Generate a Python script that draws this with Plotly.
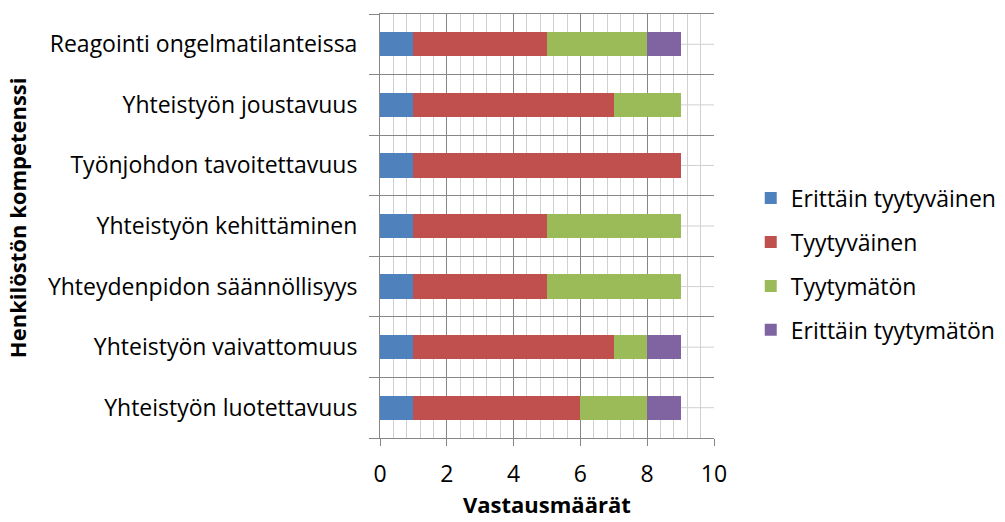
import plotly.graph_objects as go

# Competence areas, listed top to bottom as they appear on the chart
categories = [
    "Reagointi ongelmatilanteissa",
    "Yhteistyön joustavuus",
    "Työnjohdon tavoitettavuus",
    "Yhteistyön kehittäminen",
    "Yhteydenpidon säännöllisyys",
    "Yhteistyön vaivattomuus",
    "Yhteistyön luotettavuus",
]

# Response counts per satisfaction level
erittain_tyytyvainen = [1, 1, 1, 1, 1, 1, 1]
tyytyvainen = [4, 6, 8, 4, 4, 6, 5]
tyytymaton = [3, 2, 0, 4, 4, 1, 2]
erittain_tyytymaton = [1, 0, 0, 0, 0, 1, 1]

series_names = ["Erittäin tyytyväinen", "Tyytyväinen", "Tyytymätön", "Erittäin tyytymätön"]
series_values = [erittain_tyytyvainen, tyytyvainen, tyytymaton, erittain_tyytymaton]
colors = ["#4F81BD", "#C0504D", "#9BBB59", "#8064A2"]

x_ticks = [0, 2, 4, 6, 8, 10]

FONT = "Open Sans"
FS = 23
TITLE_FS = 22
DARK = "#868686"
LIGHT = "#D0D0D0"

fig = go.Figure()
for name, vals, col in zip(series_names, series_values, colors):
    fig.add_trace(go.Bar(
        y=categories, x=vals, name=name, orientation="h",
        marker=dict(color=col, line=dict(width=0)),
        legendgroup=name,
    ))

# light centre lines through each category row
for c in categories:
    fig.add_shape(type="line", xref="x domain", yref="y", x0=0, x1=1, y0=c, y1=c,
                  line=dict(color=LIGHT, width=1), layer="below")

# axis titles
fig.add_annotation(
    text="<b>Henkilöstön kompetenssi</b>", textangle=-90,
    xref="paper", yref="paper", x=-1.088, y=0.52, xanchor="center", yanchor="middle",
    showarrow=False, font=dict(family=FONT, size=TITLE_FS, color="black"),
)
fig.add_annotation(
    text="<b>Vastausmäärät</b>",
    xref="paper", yref="paper", x=0.5, y=-0.155, xanchor="center", yanchor="middle",
    showarrow=False, font=dict(family=FONT, size=TITLE_FS, color="black"),
)

fig.update_layout(
    barmode="stack",
    bargap=0.6,
    width=1005, height=522,
    margin=dict(l=380, r=291, t=14, b=84, autoexpand=False),
    plot_bgcolor="white", paper_bgcolor="white",
    font=dict(family=FONT, size=FS, color="black"),
    legend=dict(
        x=1.11, xanchor="left", y=0.41, yanchor="middle",
        traceorder="grouped", tracegroupgap=11,
        font=dict(family=FONT, size=FS, color="black"),
    ),
    xaxis=dict(
        range=[0, 10], tickvals=x_ticks, ticktext=[str(v) for v in x_ticks],
        showgrid=True, gridcolor=DARK, gridwidth=1,
        minor=dict(dtick=0.4, showgrid=True, gridcolor=LIGHT, gridwidth=1),
        ticks="outside", ticklen=7, tickcolor=DARK,
        showline=True, linecolor=DARK, mirror=True,
        zeroline=False, automargin=False,
        tickfont=dict(family=FONT, size=FS),
        ticklabelstandoff=8,
    ),
    yaxis=dict(
        categoryorder="array", categoryarray=categories[::-1],
        tickson="boundaries", ticks="outside", ticklen=10, tickcolor=DARK,
        showgrid=True, gridcolor=DARK, gridwidth=1,
        showline=True, linecolor=DARK, automargin=False,
        tickfont=dict(family=FONT, size=FS),
        ticklabelstandoff=17,
    ),
)

fig.write_html("out.html")
